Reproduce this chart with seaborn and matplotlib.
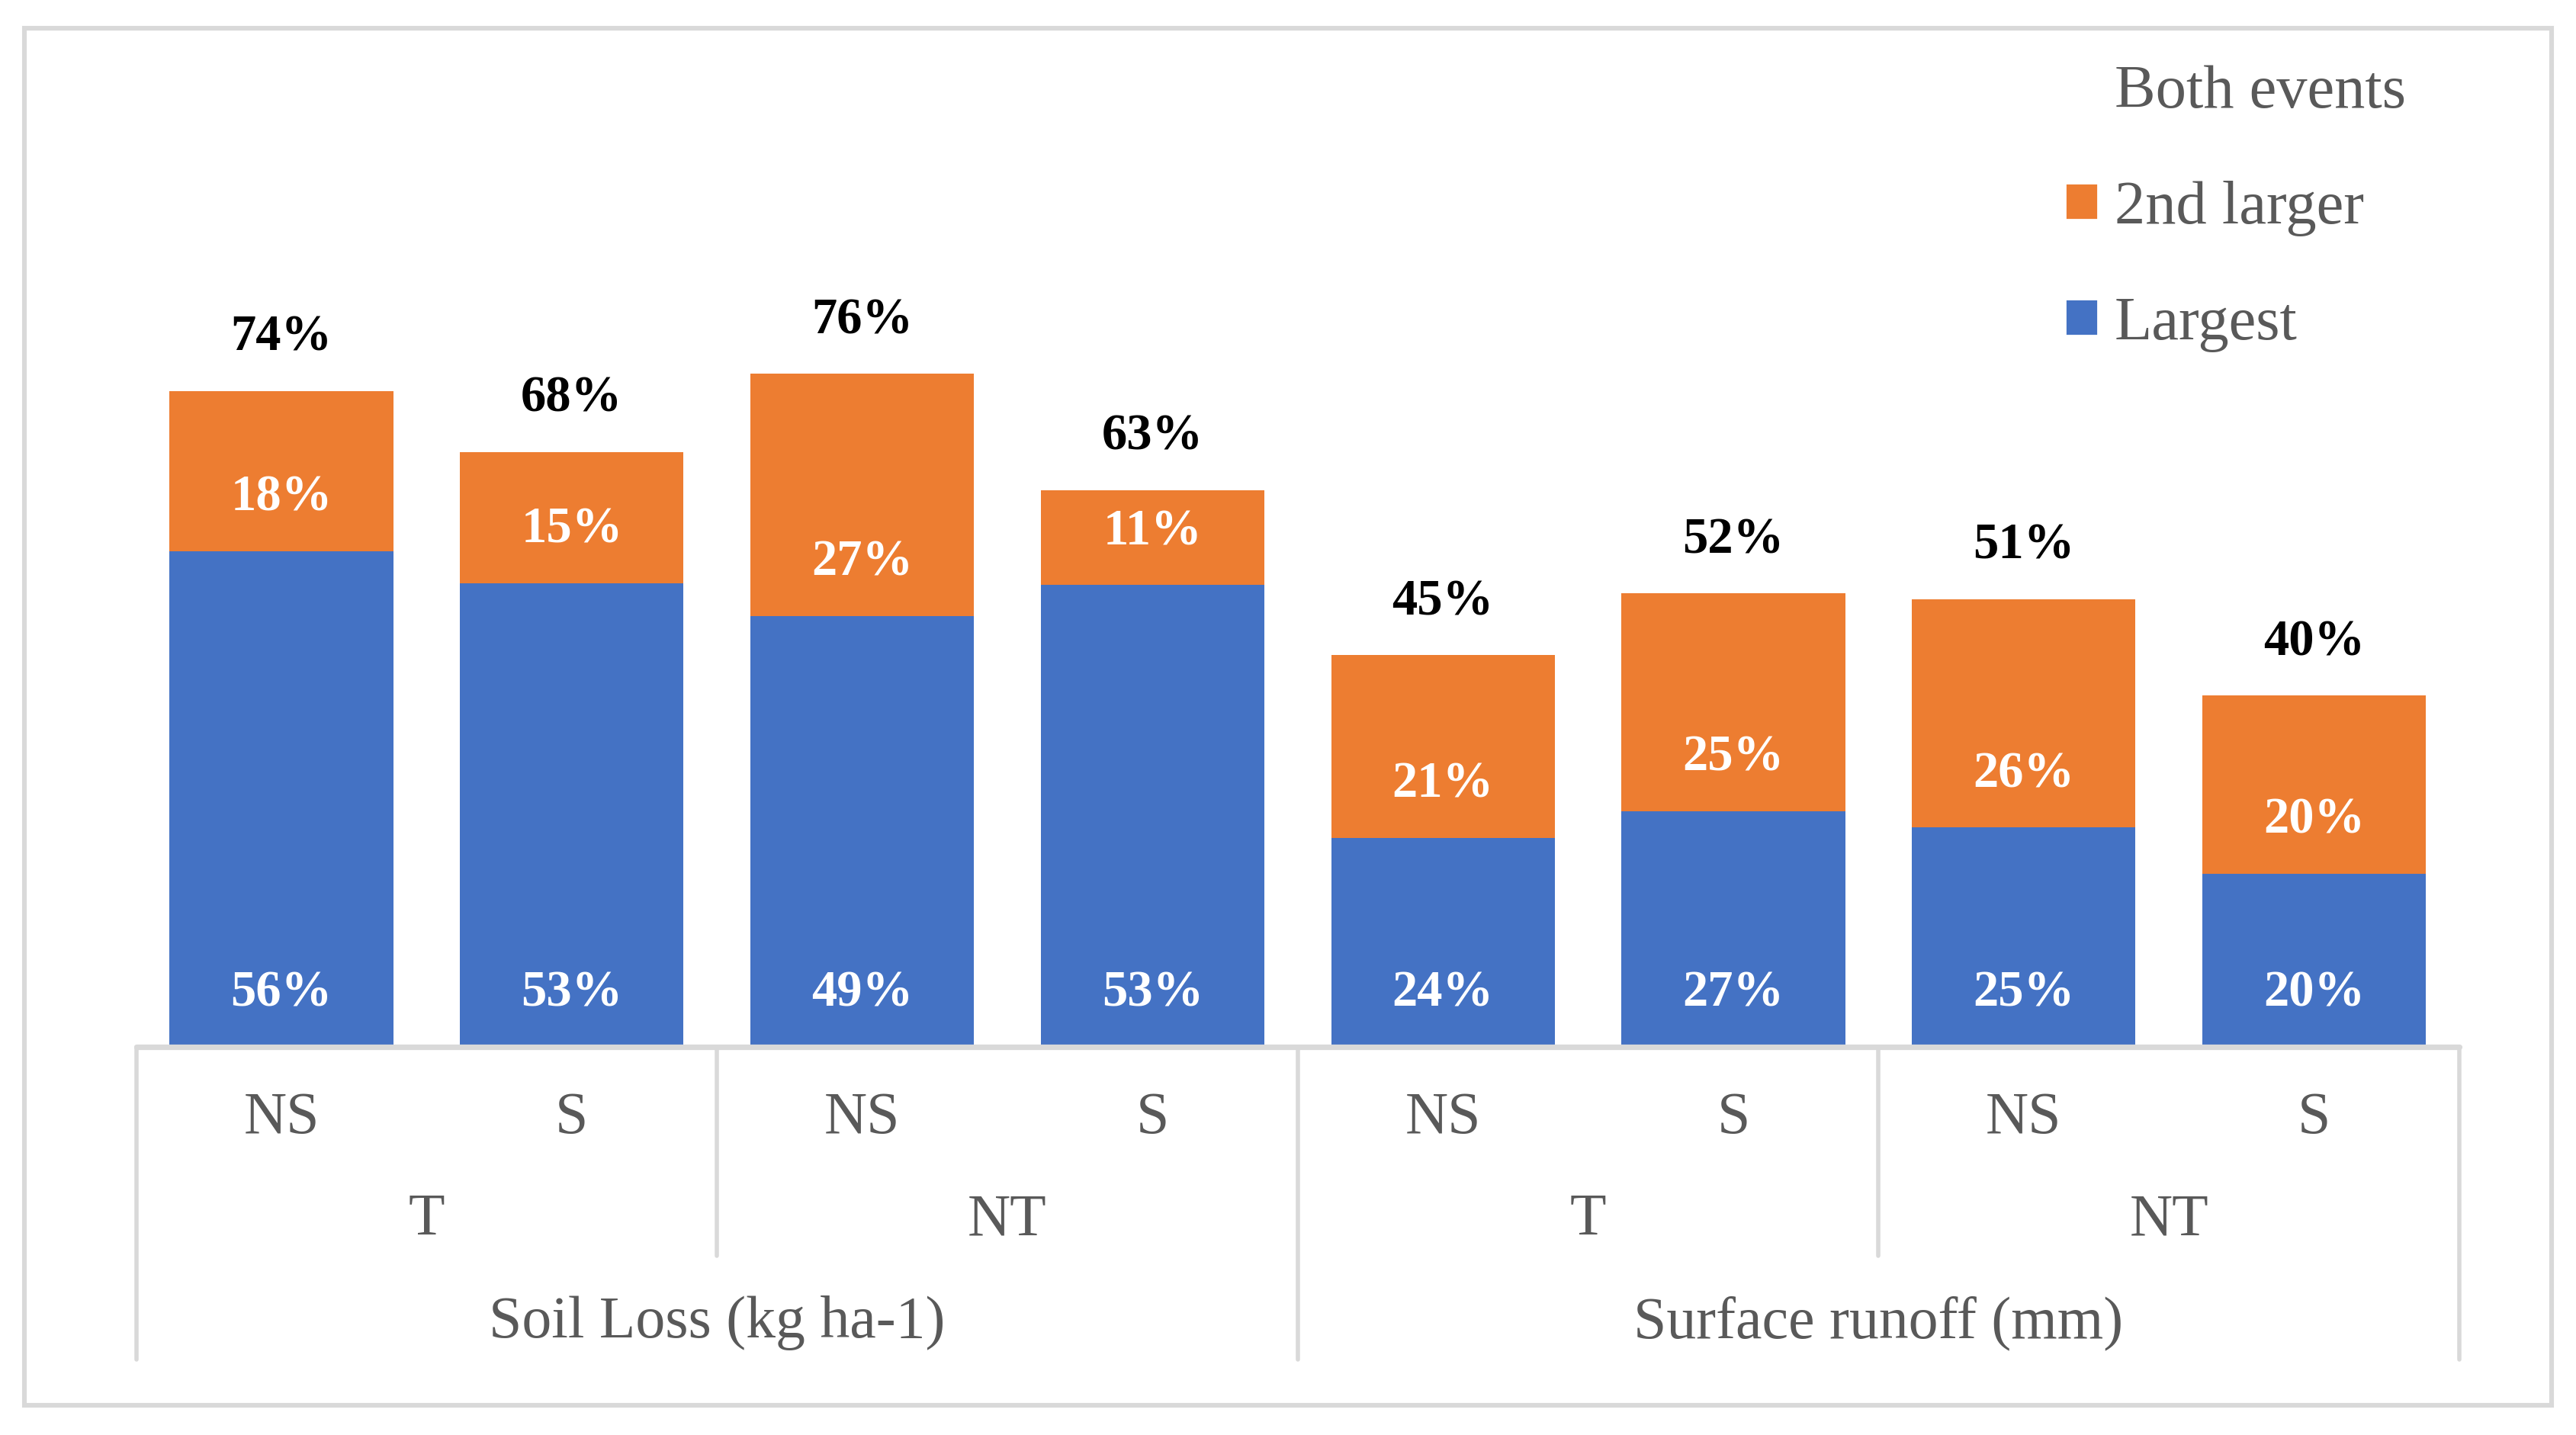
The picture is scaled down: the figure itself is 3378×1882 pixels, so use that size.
import matplotlib
matplotlib.use("Agg")
import pandas as pd
import seaborn as sns
import matplotlib.pyplot as plt
from matplotlib.patches import Patch, Rectangle

measures = ["Soil Loss (kg ha-1)", "Surface runoff (mm)"]
tillage = ["T", "NT"]
slope = ["NS", "S"]
# bar heights (%)
largest_h = [55.96, 52.35, 48.65, 52.15, 23.58, 26.62, 24.78, 19.56]
both_h = [74.04, 67.13, 75.99, 62.85, 44.23, 51.2, 50.52, 39.67]
# data labels as printed on the chart
largest_lbl = [56, 53, 49, 53, 24, 27, 25, 20]
second_lbl = [18, 15, 27, 11, 21, 25, 26, 20]
both_lbl = [74, 68, 76, 63, 45, 52, 51, 40]

ORANGE = "#ED7D31"
BLUE = "#4472C4"
GRID = "#D9D9D9"
TXT = "#595959"

rows = []
for m in measures:
    for t in tillage:
        for s in slope:
            rows.append((m, t, s))
df = pd.DataFrame(rows, columns=["measure", "tillage", "slope"])
df["bar"] = df["measure"] + "|" + df["tillage"] + "|" + df["slope"]
df["largest"] = largest_h
df["both"] = both_h

sns.set_theme(style="white")
plt.rcParams["font.family"] = ["Liberation Serif", "DejaVu Serif"]

fig = plt.figure(figsize=(16.89, 9.41), dpi=200)
ax = fig.add_axes([0.0529, 0.2705, 0.9018, 0.6174])

# stacked look: totals in orange, largest event on top in blue
sns.barplot(data=df, x="bar", y="both", color=ORANGE, saturation=1, width=0.77,
            linewidth=0, errorbar=None, ax=ax)
sns.barplot(data=df, x="bar", y="largest", color=BLUE, saturation=1, width=0.77,
            linewidth=0, errorbar=None, ax=ax)
ax.set_xlim(-0.5, 7.5)
ax.set_ylim(0, 100)
ax.set_xticks([])
ax.set_yticks([])
ax.set_xlabel("")
ax.set_ylabel("")
for sp in ax.spines.values():
    sp.set_visible(False)

top_bars = ax.containers[0]
low_bars = ax.containers[1]
off = 25
for i, p in enumerate(top_bars):
    cx = p.get_x() + p.get_width() / 2
    ax.annotate(f"{both_lbl[i]}%", (cx, p.get_height()), xytext=(0, off), textcoords="offset points",
                ha="center", va="center", fontsize=24, fontweight="bold", color="black")
for i, p in enumerate(low_bars):
    cx = p.get_x() + p.get_width() / 2
    ax.annotate(f"{second_lbl[i]}%", (cx, p.get_height()), xytext=(0, off), textcoords="offset points",
                ha="center", va="center", fontsize=24, fontweight="bold", color="white")
    ax.annotate(f"{largest_lbl[i]}%", (cx, 0), xytext=(0, off), textcoords="offset points",
                ha="center", va="center", fontsize=24, fontweight="bold", color="white")

# hierarchical category axis
tr = ax.get_xaxis_transform()
ax.plot([-0.5, 7.5], [0, 0], color=GRID, lw=2.6, transform=tr, clip_on=False)
for x in [-0.5, 3.5, 7.5]:
    ax.plot([x, x], [0, -0.353], color=GRID, lw=2.0, transform=tr, clip_on=False)
for x in [1.5, 5.5]:
    ax.plot([x, x], [0, -0.236], color=GRID, lw=2.0, transform=tr, clip_on=False)

for i, s in enumerate(df["slope"]):
    ax.text(i, -0.0808, s, transform=tr, ha="center", va="center", fontsize=28, color=TXT)
for j in range(len(measures) * len(tillage)):
    ax.text(2 * j + 0.5, -0.196, tillage[j % 2], transform=tr, ha="center", va="center",
            fontsize=28, color=TXT)
for k, m in enumerate(measures):
    ax.text(4 * k + 1.5, -0.312, m, transform=tr, ha="center", va="center", fontsize=28, color=TXT)

handles = [Patch(facecolor="none", edgecolor="none", label="Both events"),
           Patch(facecolor=ORANGE, label="2nd larger"),
           Patch(facecolor=BLUE, label="Largest")]
fig.legend(handles=handles, loc="upper left", bbox_to_anchor=(0.8017, 0.955), frameon=False,
           fontsize=29, labelcolor=TXT, handlelength=0.53, handleheight=0.53,
           handletextpad=0.27, labelspacing=0.98, borderaxespad=0, borderpad=0)

fig.patches.append(Rectangle((0.0096, 0.0206), 0.9808, 0.9599, transform=fig.transFigure,
                             fill=False, edgecolor=GRID, linewidth=2.2))

fig.savefig("out.png", dpi=200)
